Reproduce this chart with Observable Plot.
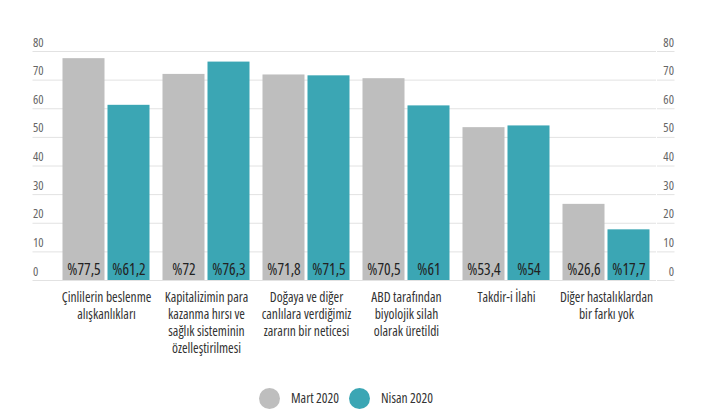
<!DOCTYPE html>
<html><head><meta charset="utf-8">
<script src="https://cdn.jsdelivr.net/npm/d3@7"></script>
<script src="https://cdn.jsdelivr.net/npm/@observablehq/plot@0.6"></script>
<style>
body{margin:0;background:#fff;font-family:"Open Sans",sans-serif;font-stretch:75%;}
#chart svg{display:block;font-family:"Open Sans",sans-serif;font-stretch:75%;}
#legend{position:relative;height:24px;margin-top:16px;font-size:13.5px;color:#333;}
.item{position:absolute;top:0;display:flex;align-items:center;height:24px;}
.dot{width:21px;height:21px;border-radius:50%;margin-right:11px;}
</style></head><body>
<div id="chart"></div>
<div id="legend"></div>
<script>
const categories = [
  "Çinlilerin beslenme\nalışkanlıkları",
  "Kapitalizimin para\nkazanma hırsı ve\nsağlık sisteminin\nözelleştirilmesi",
  "Doğaya ve diğer\ncanlılara verdiğimiz\nzararın bir neticesi",
  "ABD tarafından\nbiyolojik silah\nolarak üretildi",
  "Takdir-i İlahi",
  "Diğer hastalıklardan\nbir farkı yok"
];
const series = ["Mart 2020", "Nisan 2020"];
const mart = [77.5, 72, 71.8, 70.5, 53.4, 26.6];
const nisan = [61.2, 76.3, 71.5, 61, 54, 17.7];
const colors = ["#bebebe", "#3ba6b4"];
const yTicks = [0, 10, 20, 30, 40, 50, 60, 70, 80];

const data = categories.flatMap((c, i) => [
  {category: c, series: series[0], value: mart[i]},
  {category: c, series: series[1], value: nisan[i]}
]);
const fmt = v => "%" + String(v).replace(".", ",");
const grid = "#e2e2e2";

const chart = Plot.plot({
  width: 714, height: 370,
  marginLeft: 55.5, marginRight: 58.5, marginTop: 51, marginBottom: 90,
  fx: {domain: categories, padding: 0, label: null},
  x: {domain: series, paddingInner: 0.0667, paddingOuter: 0.1444, axis: null},
  y: {domain: [0, 80]},
  color: {domain: series, range: colors},
  marks: [
    Plot.ruleY(yTicks, {stroke: grid}),
    Plot.axisY({ticks: yTicks, anchor: "left", tickSize: 23.5, fill: "none", stroke: grid, label: null}),
    Plot.axisY({ticks: yTicks, anchor: "left", tickSize: 0, tickPadding: 23.5, textAnchor: "start", dy: -9, fill: "#666", fontSize: 12.5, label: null}),
    Plot.axisY({ticks: yTicks, anchor: "right", tickSize: 17.5, fill: "none", stroke: grid, label: null}),
    Plot.axisY({ticks: yTicks, anchor: "right", tickSize: 0, tickPadding: 17.5, textAnchor: "end", dy: -9, fill: "#666", fontSize: 12.5, label: null}),
    Plot.barY(data, {fx: "category", x: "series", y: "value", fill: "series"}),
    Plot.text(data, {fx: "category", x: "series", y: 0, text: d => fmt(d.value), dy: -10, fill: "#222", fontSize: 15.5}),
    Plot.axisFx({anchor: "bottom", tickSize: 0, tickPadding: 10, fontSize: 13.5, lineHeight: 1.24, fill: "#333", label: null})
  ]
});
document.getElementById("chart").append(chart);

const legend = document.getElementById("legend");
const lefts = [259, 349];
series.forEach((s, i) => {
  const it = document.createElement("div");
  it.className = "item";
  it.style.left = lefts[i] + "px";
  it.innerHTML = `<span class="dot" style="background:${colors[i]}"></span><span>${s}</span>`;
  legend.append(it);
});
</script>
</body></html>
